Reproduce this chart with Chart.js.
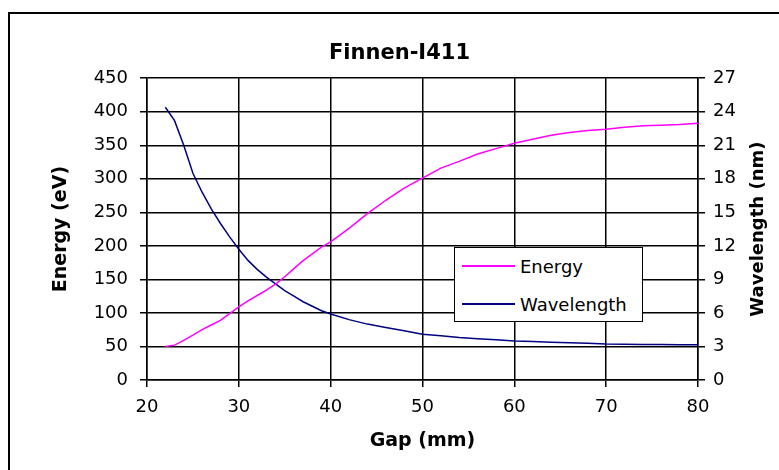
<!DOCTYPE html>
<html lang="en">
<head>
    <meta charset="UTF-8">
    <title>Finnen-I411</title>
    <script src="https://cdn.jsdelivr.net/npm/chart.js"></script>
    <style>
        html, body {
            margin: 0;
            padding: 0;
            background: #fff;
            overflow: hidden;
        }

        .frame {
            position: absolute;
            left: 8px;
            top: 12px;
            width: 820px;
            height: 520px;
            border: 2px solid #000;
        }

        .chart-box {
            position: absolute;
            left: 0;
            top: 0;
            width: 779px;
            height: 470px;
        }

        .legend-box {
            position: absolute;
            left: 454px;
            top: 247px;
            width: 187px;
            height: 73px;
            border: 1px solid #000;
            background: #fff;
            font-family: 'DejaVu Sans', sans-serif;
            font-size: 18px;
            color: #000;
        }

        .legend-item {
            position: absolute;
            left: 7px;
            display: flex;
            align-items: center;
            height: 22px;
        }

        .legend-line {
            width: 53px;
            height: 1.5px;
            margin-right: 5px;
        }
    </style>
</head>
<body>
    <div class="frame"></div>
    <div class="chart-box">
        <canvas id="gapChart"></canvas>
    </div>
    <div class="legend-box" id="legend"></div>

    <script>
        // Gap (mm) sampled along both curves
        const gap = [22, 23, 24, 25, 26, 27, 28, 29, 30, 31, 32, 33, 34, 35, 36, 37, 38, 39, 40,
                     42, 44, 46, 48, 50, 52, 54, 56, 58, 60, 62, 64, 66, 68, 70, 72, 74, 76, 78, 80];

        // Energy (eV), left axis
        const energy = [50, 52, 59, 67, 75, 82, 89, 99, 109, 118, 126, 134, 143, 154, 166, 178, 188, 198, 206,
                        226, 248, 268, 286, 301, 316, 326, 337, 345, 353, 359, 365, 369, 372, 374, 377, 379, 380, 381, 383];

        // Wavelength (nm), right axis
        const wavelength = [24.4, 23.2, 21.0, 18.5, 16.8, 15.3, 14.0, 12.8, 11.7, 10.7, 9.9, 9.2, 8.6, 8.0, 7.5, 7.0, 6.6, 6.2, 5.9,
                            5.4, 5.0, 4.7, 4.4, 4.1, 3.95, 3.8, 3.7, 3.6, 3.5, 3.45, 3.38, 3.33, 3.28, 3.22, 3.2, 3.18, 3.17, 3.16, 3.15];

        const seriesNames = ['Energy', 'Wavelength'];
        const seriesColors = ['#ff00ff', '#000080'];

        const chartTitle = 'Finnen-I411';
        const xTitle = 'Gap (mm)';
        const yTitle = 'Energy (eV)';
        const y1Title = 'Wavelength (nm)';

        Chart.defaults.font.family = "'DejaVu Sans', sans-serif";
        Chart.defaults.font.size = 18;
        Chart.defaults.color = '#000';

        function toPoints(values) {
            return gap.map((g, i) => ({ x: g, y: values[i] }));
        }

        // right axis title reads bottom-to-top, so it is drawn here
        const rightTitle = {
            id: 'rightTitle',
            afterDraw(chart) {
                const ctx = chart.ctx;
                const scale = chart.scales.y1;
                const area = chart.chartArea;
                ctx.save();
                ctx.translate(scale.right - 21, (area.top + area.bottom) / 2);
                ctx.rotate(-Math.PI / 2);
                ctx.font = "bold 18px 'DejaVu Sans', sans-serif";
                ctx.fillStyle = '#000';
                ctx.textAlign = 'center';
                ctx.textBaseline = 'middle';
                ctx.fillText(y1Title, 0, 0);
                ctx.restore();
            }
        };

        const ctx = document.getElementById('gapChart').getContext('2d');
        const gapChart = new Chart(ctx, {
            type: 'line',
            data: {
                datasets: [
                    {
                        label: seriesNames[0],
                        data: toPoints(energy),
                        borderColor: seriesColors[0],
                        backgroundColor: seriesColors[0],
                        borderWidth: 1.5,
                        pointRadius: 0,
                        tension: 0,
                        yAxisID: 'y'
                    },
                    {
                        label: seriesNames[1],
                        data: toPoints(wavelength),
                        borderColor: seriesColors[1],
                        backgroundColor: seriesColors[1],
                        borderWidth: 1.5,
                        pointRadius: 0,
                        tension: 0,
                        yAxisID: 'y1'
                    }
                ]
            },
            options: {
                responsive: true,
                maintainAspectRatio: false,
                animation: false,
                // left padding moves the title centre over the framed area
                layout: { padding: { left: 20, top: 0, right: 0, bottom: 0 } },
                scales: {
                    x: {
                        type: 'linear',
                        min: 20,
                        max: 80,
                        ticks: { stepSize: 10, padding: 10 },
                        grid: { color: '#000', lineWidth: 1.5, tickLength: 7 },
                        border: { color: '#000', width: 1.5 },
                        title: {
                            display: true,
                            text: xTitle,
                            font: { weight: 'bold', size: 19 },
                            padding: { top: 0, bottom: 18 }
                        },
                        afterFit(scale) { scale.height = 90; }
                    },
                    y: {
                        position: 'left',
                        min: 0,
                        max: 450,
                        ticks: { stepSize: 50, padding: 12 },
                        grid: { color: '#000', lineWidth: 1.5, tickLength: 7 },
                        border: { color: '#000', width: 1.5 },
                        title: {
                            display: true,
                            text: yTitle,
                            font: { weight: 'bold', size: 19 },
                            padding: { top: 30, bottom: 0 }
                        },
                        afterFit(scale) { scale.width = 127; }
                    },
                    y1: {
                        position: 'right',
                        min: 0,
                        max: 27,
                        ticks: { stepSize: 3, padding: 8 },
                        grid: { color: '#000', lineWidth: 1.5, tickLength: 7, drawOnChartArea: false },
                        border: { color: '#000', width: 1.5 },
                        afterFit(scale) { scale.width = 81; }
                    }
                },
                plugins: {
                    legend: { display: false },
                    tooltip: { enabled: false },
                    title: {
                        display: true,
                        text: chartTitle,
                        font: { weight: 'bold', size: 21 },
                        color: '#000',
                        padding: { top: 41, bottom: 12 }
                    }
                }
            },
            plugins: [rightTitle]
        });

        // legend inside the plot, like the original
        const legend = document.getElementById('legend');
        seriesNames.forEach((name, i) => {
            const item = document.createElement('div');
            item.className = 'legend-item';
            item.style.top = (i === 0 ? 7 : 45) + 'px';
            item.innerHTML = `<div class="legend-line" style="background-color: ${seriesColors[i]};"></div><span>${name}</span>`;
            legend.appendChild(item);
        });
    </script>
</body>
</html>
